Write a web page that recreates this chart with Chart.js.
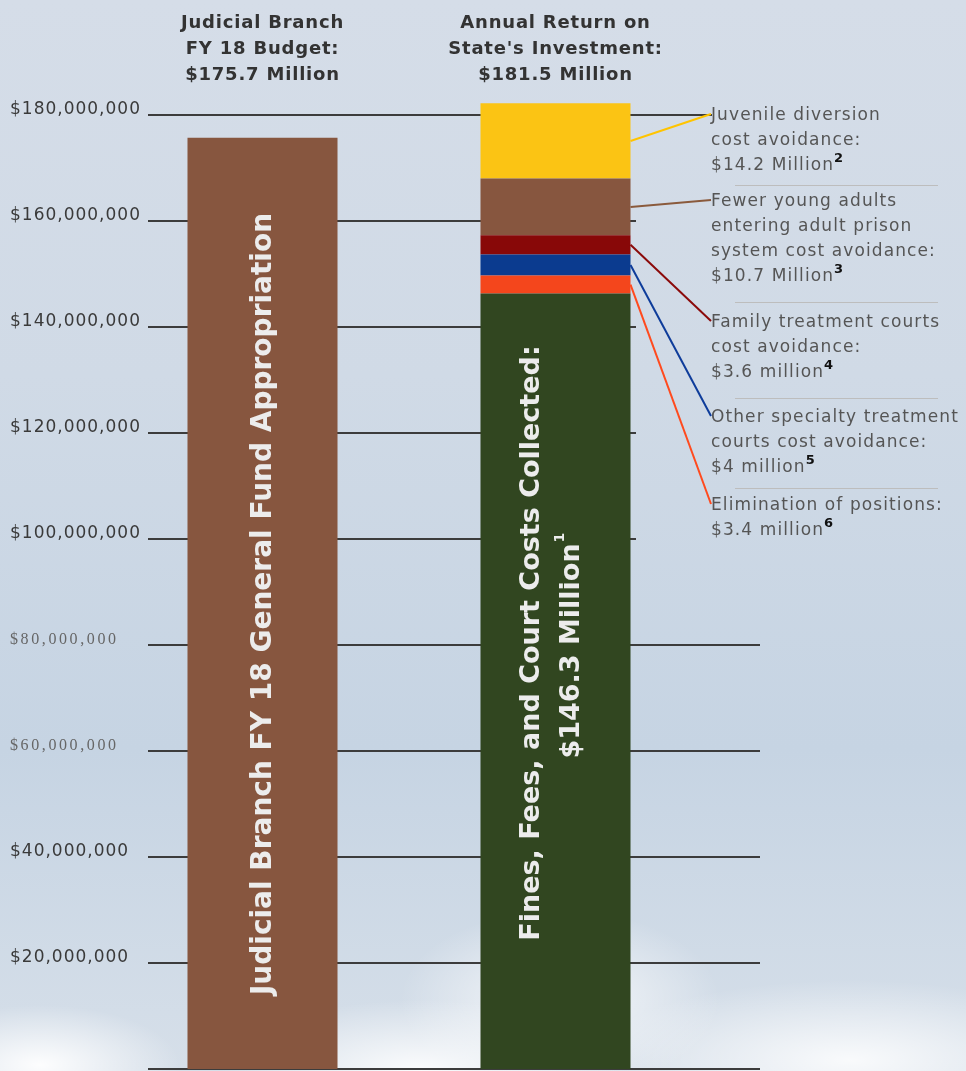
<!DOCTYPE html>
<html>
<head>
<meta charset="utf-8">
<script src="https://cdn.jsdelivr.net/npm/chart.js@4"></script>
<style>
  html, body { margin: 0; padding: 0; }
  body {
    width: 966px; height: 1071px; overflow: hidden;
    background:
      radial-gradient(ellipse 140px 60px at 40px 1065px, rgba(255,255,255,0.95), rgba(255,255,255,0) 100%),
      radial-gradient(ellipse 200px 70px at 420px 1070px, rgba(255,255,255,0.9), rgba(255,255,255,0) 100%),
      radial-gradient(ellipse 160px 90px at 560px 1000px, rgba(255,255,255,0.8), rgba(255,255,255,0) 100%),
      radial-gradient(ellipse 260px 80px at 850px 1060px, rgba(255,255,255,0.85), rgba(255,255,255,0) 100%),
      linear-gradient(to bottom, #d5dde8 0%, #d0dae6 35%, #c6d4e3 70%, #d6dfe9 100%);
  }
  #wrap { position: absolute; left: 0; top: 0; width: 966px; height: 1071px; }
</style>
</head>
<body>
<div id="wrap"><canvas id="c"></canvas></div>
<script>
// 兩根柱子
let categories = ['Judicial Branch FY 18 Budget', "Annual Return on State's Investment"];
// 左柱: 預算 (百萬)
let budgetValues = [175.7, null];
// 右柱: 各項回報 (百萬), 由下往上
let returnLabels = ['Fines, Fees, and Court Costs Collected', 'Elimination of positions',
  'Other specialty treatment courts cost avoidance', 'Family treatment courts cost avoidance',
  'Fewer young adults entering adult prison system cost avoidance', 'Juvenile diversion cost avoidance'];
let returnValues = [146.3, 3.4, 4, 3.6, 10.7, 14.2];
// y 軸刻度 (百萬)
let tickValues = [0, 20, 40, 60, 80, 100, 120, 140, 160, 180];
let tickLabels = ['', '$20,000,000', '$40,000,000', '$60,000,000', '$80,000,000', '$100,000,000',
  '$120,000,000', '$140,000,000', '$160,000,000', '$180,000,000'];
// 標題文字
let leftTitle = ['Judicial Branch', 'FY 18 Budget:', '$175.7 Million'];
let rightTitle = ['Annual Return on', "State's Investment:", '$181.5 Million'];
// 右側說明文字 (對應 returnValues index 5..1)
let notes = [
  { idx: 5, lines: ['Juvenile diversion', 'cost avoidance:', '$14.2 Million'], sup: '2' },
  { idx: 4, lines: ['Fewer young adults', 'entering adult prison', 'system cost avoidance:', '$10.7 Million'], sup: '3' },
  { idx: 3, lines: ['Family treatment courts', 'cost avoidance:', '$3.6 million'], sup: '4' },
  { idx: 2, lines: ['Other specialty treatment', 'courts cost avoidance:', '$4 million'], sup: '5' },
  { idx: 1, lines: ['Elimination of positions:', '$3.4 million'], sup: '6' }
];

let partColors = ['#314620', '#f4461c', '#0b3b8f', '#880808', '#87563f', '#fbc414'];
let lineColors = ['#314620', '#ff4a1e', '#0e3c9a', '#8b0a0a', '#8a5a3c', '#ffc400'];
// 說明文字位置
let noteTop = [108, 194, 315, 410, 498];
let sepY = [185, 302, 398, 488];

let FONT = '"DejaVu Sans", sans-serif';

let datasets = [{
  label: categories[0],
  data: budgetValues,
  backgroundColor: '#87563f',
  borderWidth: 0
}];
for (let i = 0; i < returnValues.length; i++) {
  datasets.push({
    label: returnLabels[i],
    data: [null, returnValues[i]],
    backgroundColor: partColors[i],
    borderWidth: 0
  });
}

// 自訂繪圖: 網格線, 刻度, 標題, 說明
let decor = {
  id: 'decor',
  beforeDatasetsDraw(chart) {
    let c = chart.ctx, y = chart.scales.y;
    c.save();
    c.strokeStyle = '#3c3c3c';
    c.lineWidth = 2;
    tickValues.forEach(v => {
      let py = Math.round(y.getPixelForValue(v));
      let xEnd = v >= 100 ? 636 : 760;
      if (v === 180) xEnd = 712;
      c.beginPath();
      c.moveTo(148, py);
      c.lineTo(xEnd, py);
      c.stroke();
    });
    // 刻度文字
    c.textAlign = 'left';
    c.textBaseline = 'alphabetic';
    tickValues.forEach((v, i) => {
      let py = y.getPixelForValue(v);
      if (v === 60 || v === 80) {
        c.font = '16px "Liberation Serif", serif';
        c.letterSpacing = '2.6px';
        c.fillStyle = '#666';
      } else {
        c.font = '17px ' + FONT;
        c.letterSpacing = '1px';
        c.fillStyle = '#3a3a3a';
      }
      c.fillText(tickLabels[i], 10, py - 1);
    });
    c.letterSpacing = '0px';
    c.restore();
  },
  afterDatasetsDraw(chart) {
    let c = chart.ctx;
    c.save();
    // 柱子上方標題
    c.fillStyle = '#333';
    c.font = 'bold 18px ' + FONT;
    c.letterSpacing = '0.8px';
    c.textAlign = 'center';
    let m0 = chart.getDatasetMeta(0).data[0];
    let m1 = chart.getDatasetMeta(1).data[1];
    leftTitle.forEach((t, i) => c.fillText(t, m0.x, 28 + i * 26));
    rightTitle.forEach((t, i) => c.fillText(t, m1.x, 28 + i * 26));
    c.letterSpacing = '0px';

    // 柱內直排文字
    c.fillStyle = '#ececec';
    c.save();
    c.translate(m0.x + 1, 604);
    c.rotate(-Math.PI / 2);
    c.font = 'bold 28px ' + FONT;
    c.textBaseline = 'middle';
    c.fillText('Judicial Branch FY 18 General Fund Appropriation', 0, 0);
    c.restore();

    c.save();
    c.translate(m1.x - 4, 643);
    c.rotate(-Math.PI / 2);
    c.font = 'bold 27px ' + FONT;
    c.textBaseline = 'middle';
    c.fillText('Fines, Fees, and Court Costs Collected:', 0, -20);
    let t2 = '$146.3 Million';
    let w2 = c.measureText(t2).width;
    c.fillText(t2, -8, 20);
    c.font = 'bold 14px ' + FONT;
    c.textAlign = 'left';
    c.fillText('1', -8 + w2 / 2 + 1, 9);
    c.restore();

    // 分隔線
    c.strokeStyle = '#bdbdbd';
    c.lineWidth = 1;
    sepY.forEach(sy => {
      c.beginPath();
      c.moveTo(735, sy + 0.5);
      c.lineTo(938, sy + 0.5);
      c.stroke();
    });

    // 引線與說明
    notes.forEach((n, k) => {
      let bar = chart.getDatasetMeta(n.idx + 1).data[1];
      let sx = bar.x + bar.width / 2;
      let sy = (bar.y + bar.base) / 2;
      let ty = noteTop[k] + 6;
      c.strokeStyle = lineColors[n.idx];
      c.lineWidth = 2;
      c.beginPath();
      c.moveTo(sx, sy);
      c.lineTo(711, ty);
      c.stroke();

      c.textAlign = 'left';
      c.textBaseline = 'alphabetic';
      n.lines.forEach((t, i) => {
        let ly = noteTop[k] + 12 + i * 25;
        c.font = '17px ' + FONT;
        c.letterSpacing = '1.1px';
        c.fillStyle = '#555';
        c.fillText(t, 711, ly);
        if (i === n.lines.length - 1) {
          let w = c.measureText(t).width;
          c.letterSpacing = '0px';
          c.font = 'bold 13px ' + FONT;
          c.fillStyle = '#111';
          c.fillText(n.sup, 711 + w, ly - 8);
        }
      });
      c.letterSpacing = '0px';
    });
    c.restore();
  }
};

let config = {
  type: 'bar',
  data: { labels: categories, datasets: datasets },
  options: {
    responsive: true,
    maintainAspectRatio: false,
    animation: false,
    layout: { padding: { left: 116, right: 264, top: 9, bottom: 2 } },
    plugins: { legend: { display: false }, tooltip: { enabled: false } },
    datasets: { bar: { categoryPercentage: 1, barPercentage: 0.512 } },
    scales: {
      x: { stacked: true, display: false },
      y: { stacked: true, display: false, min: 0, max: 200 }
    }
  },
  plugins: [decor]
};
new Chart(document.getElementById('c'), config);
</script>
</body>
</html>
